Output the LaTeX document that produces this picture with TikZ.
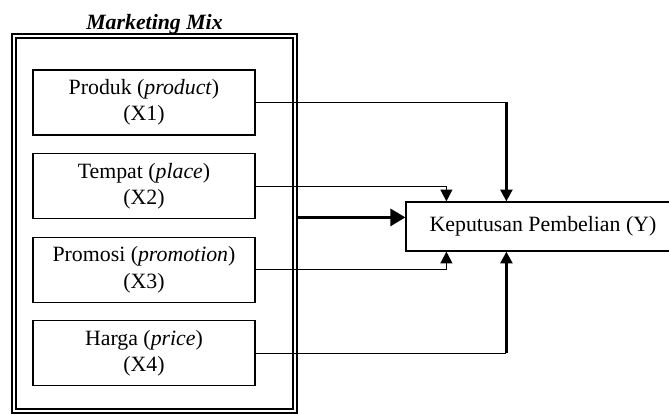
\documentclass[tikz,border=0pt]{standalone}
\usepackage{fontspec}
\setmainfont{Liberation Serif}
\usetikzlibrary{calc}
\usetikzlibrary{arrows.meta}
\usetikzlibrary{positioning}

\begin{document}
\begin{tikzpicture}[x=0.55pt,y=-0.55pt,
  font=\fontsize{12}{14.5}\selectfont,
  varbox/.style={draw,line width=0.65pt,minimum width=122.1pt,minimum height=35.75pt,align=center,inner sep=0pt},
  link/.style={line width=0.65pt},
  tip/.style={-{Triangle[length=6.5pt,width=6.5pt]}}]
\useasboundingbox (0,0) rectangle (669,414);
% outer frame
\node[draw,line width=0.65pt,double,double distance=1.5pt,minimum width=154.55pt,minimum height=206.25pt] (mix) at (154.5,223.5) {};
\node[above=0.5pt of mix,inner sep=0pt,font=\fontsize{12}{14.5}\selectfont\bfseries\itshape] (title) {Marketing Mix};
% variables
\node[varbox] (x1) at (144,102.5) {Produk (\textit{product})\\(X1)};
\node[varbox,below=9.6pt of x1] (x2) {Tempat (\textit{place})\\(X2)};
\node[varbox,below=9.6pt of x2] (x3) {Promosi (\textit{promotion})\\(X3)};
\node[varbox,below=9.6pt of x3] (x4) {Harga (\textit{price})\\(X4)};
\node[draw,line width=0.65pt,minimum width=150.7pt,minimum height=26.95pt,inner sep=0pt] (y) at (543,226.5) {Keputusan Pembelian (Y)};
% entry points on Y
\coordinate (t1) at ($(y.north west)+(101,0)$);
\coordinate (t2) at ($(y.north west)+(41,0)$);
\coordinate (b1) at ($(y.south west)+(101,0)$);
\coordinate (b2) at ($(y.south west)+(41,0)$);
\draw[link] (x1.east) -- (x1.east -| t1);
\draw[line width=1.65pt,tip] (x1.east -| t1) -- (t1);
\draw[link] (x2.east) -- (x2.east -| t2);
\draw[line width=0.95pt,tip] (x2.east -| t2) -- (t2);
\draw[link] (x3.east) -- (x3.east -| b2);
\draw[line width=0.95pt,tip] (x3.east -| b2) -- (b2);
\draw[link] (x4.east) -- (x4.east -| b1);
\draw[line width=1.65pt,tip] (x4.east -| b1) -- (b1);
% mix to Y
\draw[line width=1.6pt,-{Triangle[length=8.3pt,width=9.4pt]}] ([yshift=5pt]y.west -| mix.east) -- ([yshift=5pt]y.west);
\end{tikzpicture}
\end{document}
